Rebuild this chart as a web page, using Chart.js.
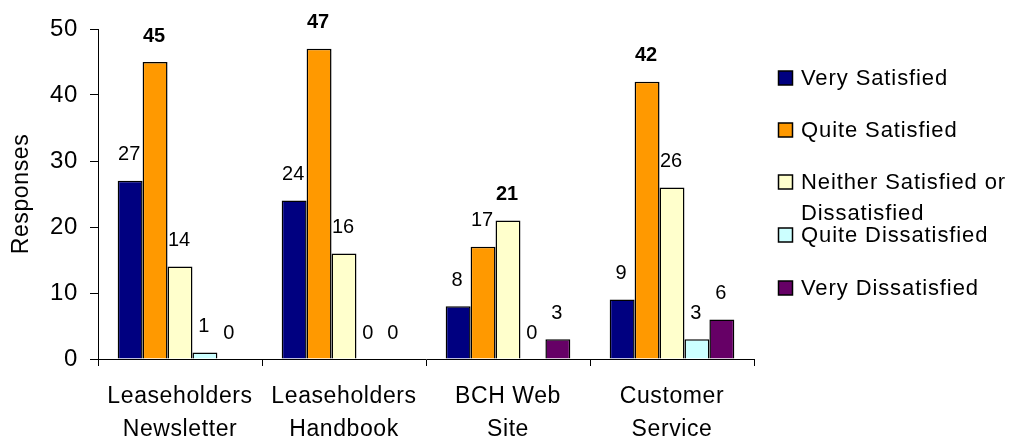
<!DOCTYPE html>
<html>
<head>
<meta charset="utf-8">
<script src="https://cdn.jsdelivr.net/npm/chart.js@4/dist/chart.umd.min.js"></script>
<style>
  html, body { margin: 0; padding: 0; background: #fff; }
  #wrap { width: 1013px; height: 441px; }
</style>
</head>
<body>
<div id="wrap"><canvas id="c" width="1013" height="441"></canvas></div>
<script>
// Survey categories (two-line labels)
const categories = [
  ['Leaseholders', 'Newsletter'],
  ['Leaseholders', 'Handbook'],
  ['BCH Web', 'Site'],
  ['Customer', 'Service']
];

// Responses per satisfaction level
const verySatisfied      = [27, 24, 8, 9];
const quiteSatisfied     = [45, 47, 17, 42];
const neitherSatisfied   = [14, 16, 21, 26];
const quiteDissatisfied  = [1, 0, 0, 3];
const veryDissatisfied   = [0, 0, 3, 6];

const seriesNames = [
  'Very Satisfied',
  'Quite Satisfied',
  'Neither Satisfied or Dissatisfied',
  'Quite Dissatisfied',
  'Very Dissatisfied'
];
const seriesColors = ['#000080', '#FF9900', '#FFFFCC', '#CCFFFF', '#660066'];
const yTicks = [0, 10, 20, 30, 40, 50];

const FONT = '"Liberation Sans", Arial, sans-serif';
const seriesValues = [verySatisfied, quiteSatisfied, neitherSatisfied, quiteDissatisfied, veryDissatisfied];

// Slightly loose letter spacing for all canvas text
const spacing = {
  id: 'spacing',
  beforeLayout(chart) { chart.ctx.letterSpacing = '0.6px'; },
  beforeDraw(chart) { chart.ctx.letterSpacing = '0.6px'; }
};

// Value labels above each bar; the top answer in each category is bold
const valueLabels = {
  id: 'valueLabels',
  afterDatasetsDraw(chart) {
    const ctx = chart.ctx;
    ctx.save();
    ctx.letterSpacing = '0px';
    ctx.fillStyle = '#000';
    ctx.textAlign = 'center';
    ctx.textBaseline = 'middle';
    chart.data.datasets.forEach((ds, di) => {
      const meta = chart.getDatasetMeta(di);
      meta.data.forEach((bar, i) => {
        const v = ds.data[i];
        const groupMax = Math.max(...seriesValues.map(s => s[i]));
        ctx.font = (v === groupMax ? 'bold ' : '') + '20px ' + FONT;
        ctx.fillText(String(v), bar.x - 1, bar.y - 26);
      });
    });
    ctx.restore();
  }
};

// Legend drawn at the right with square swatches and wrapped text
const sideLegend = {
  id: 'sideLegend',
  afterDraw(chart) {
    const ctx = chart.ctx;
    const rows = [
      { lines: ['Very Satisfied'], y: 78 },
      { lines: ['Quite Satisfied'], y: 130 },
      { lines: ['Neither Satisfied or', 'Dissatisfied'], y: 182 },
      { lines: ['Quite Dissatisfied'], y: 235 },
      { lines: ['Very Dissatisfied'], y: 288 }
    ];
    ctx.save();
    ctx.letterSpacing = '0.9px';
    ctx.font = '22px ' + FONT;
    ctx.textBaseline = 'middle';
    ctx.textAlign = 'left';
    rows.forEach((row, i) => {
      const ds = chart.data.datasets[i];
      ctx.fillStyle = ds.backgroundColor;
      ctx.fillRect(778.5, row.y - 7, 14, 14);
      ctx.strokeStyle = '#000';
      ctx.lineWidth = 1.5;
      ctx.strokeRect(778.5, row.y - 7, 14, 14);
      ctx.fillStyle = '#000';
      row.lines.forEach((t, k) => ctx.fillText(t, 801, row.y + 1 + k * 31));
    });
    ctx.restore();
  }
};

new Chart(document.getElementById('c'), {
  type: 'bar',
  data: {
    labels: categories,
    datasets: seriesNames.map((name, i) => ({
      label: name,
      data: seriesValues[i],
      backgroundColor: seriesColors[i],
      borderColor: '#000',
      borderWidth: 1.5,
      categoryPercentage: 0.76,
      barPercentage: 1.0
    }))
  },
  options: {
    responsive: false,
    animation: false,
    layout: { padding: { left: 0, right: 259, top: 29, bottom: 0 } },
    plugins: {
      legend: { display: false },
      tooltip: { enabled: false }
    },
    scales: {
      x: {
        offset: true,
        grid: {
          offset: true,
          drawOnChartArea: false,
          tickLength: 7,
          color: '#000',
          lineWidth: 1
        },
        border: { color: '#000', width: 1 },
        ticks: {
          color: '#000',
          font: { family: FONT, size: 23, lineHeight: 1.4 },
          padding: 15,
          maxRotation: 0,
          autoSkip: false
        },
        afterFit(s) { s.height = 82; }
      },
      y: {
        min: 0,
        max: 50,
        afterBuildTicks(s) { s.ticks = yTicks.map(v => ({ value: v })); },
        grid: {
          drawOnChartArea: false,
          tickLength: 8,
          color: '#000',
          lineWidth: 1
        },
        border: { color: '#000', width: 1 },
        ticks: {
          color: '#000',
          font: { family: FONT, size: 24 },
          padding: 12
        },
        title: {
          display: true,
          text: 'Responses',
          color: '#000',
          font: { family: FONT, size: 23 },
          padding: { top: 8, bottom: 0 }
        },
        afterFit(s) { s.width = 98; }
      }
    }
  },
  plugins: [spacing, valueLabels, sideLegend]
});
</script>
</body>
</html>
